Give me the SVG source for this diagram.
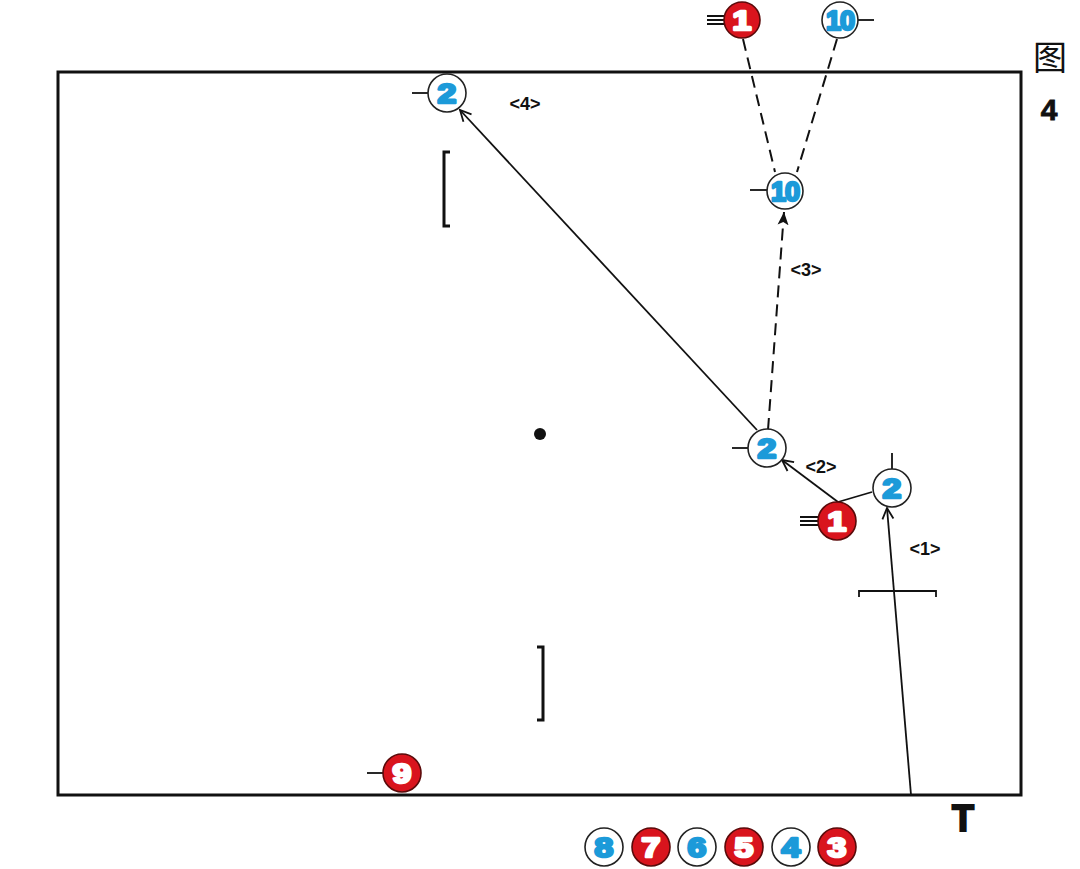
<svg xmlns="http://www.w3.org/2000/svg" width="1080" height="869" viewBox="0 0 1080 869">
<style>
.w{fill:#fff;stroke:#222;stroke-width:1.6}
.r{fill:#d9141d;stroke:#5a0a0a;stroke-width:1.6}
.nb{fill:#1c9ad9;stroke:#1c9ad9;stroke-width:2.6;stroke-linejoin:round;font-family:"Liberation Sans",Arial,sans-serif;font-weight:bold;font-size:27px;text-anchor:middle}
.nw{fill:#fff;stroke:#fff;stroke-width:2.6;stroke-linejoin:round;font-family:"Liberation Sans",Arial,sans-serif;font-weight:bold;font-size:27px;text-anchor:middle}
.tk{stroke:#111;stroke-width:1.8;fill:none}
.ln{stroke:#111;stroke-width:1.8;fill:none}
.ds{stroke:#111;stroke-width:2;fill:none;stroke-dasharray:12 7}
.lb{font-family:"Liberation Sans",Arial,sans-serif;font-weight:bold;font-size:18px;fill:#111;text-anchor:middle}
.br{stroke:#111;stroke-width:3;fill:none}
</style>
<defs>
<marker id="open" markerUnits="userSpaceOnUse" markerWidth="14" markerHeight="14" refX="12" refY="7" orient="auto">
<path d="M1,1.5 L12,7 L1,12.5" fill="none" stroke="#111" stroke-width="1.8"/>
</marker>
<marker id="fill" markerUnits="userSpaceOnUse" markerWidth="14" markerHeight="14" refX="13" refY="7" orient="auto">
<path d="M0,1.5 L13,7 L0,12.5 L3,7 Z" fill="#111"/>
</marker>
</defs>
<rect width="1080" height="869" fill="#fff"/>
<rect id="court" x="58" y="72" width="963" height="723" fill="none" stroke="#111" stroke-width="3"/>
<g id="marks">
<circle cx="540" cy="434" r="6" fill="#111"/>
<path class="br" d="M450,152 H444 V226 H450"/>
<path class="br" d="M537,647 H543 V720 H537"/>
<path class="tk" d="M859,597 V591 H936 V597"/>
</g>
<g id="connectors">
<line class="ds" x1="743" y1="39" x2="775" y2="172"/>
<line class="ds" x1="837" y1="39" x2="797" y2="172"/>
<line class="ds" x1="768" y1="430" x2="784" y2="212" marker-end="url(#fill)"/>
<line class="ln" x1="757" y1="430" x2="460" y2="110" marker-end="url(#open)"/>
<line class="ln" x1="838" y1="502" x2="782" y2="460" marker-end="url(#open)"/>
<line class="ln" x1="838" y1="502" x2="872" y2="492"/>
<line class="ln" x1="911" y1="795" x2="887" y2="508" marker-end="url(#open)"/>
</g>
<g id="labels">
<text class="lb" x="525" y="110">&lt;4&gt;</text>
<text class="lb" x="806" y="276">&lt;3&gt;</text>
<text class="lb" x="821" y="473">&lt;2&gt;</text>
<text class="lb" x="925" y="555">&lt;1&gt;</text>
</g>
<g id="p1top">
<path class="tk" d="M707,16 H724 M707,20 H724 M707,24 H724"/>
<circle class="r" cx="742" cy="20" r="18"/>
<text class="nw" transform="translate(742,20) scale(1.25,1)" y="10">1</text>
</g>
<g id="p10top">
<line class="tk" x1="858" y1="20" x2="874" y2="20"/>
<circle class="w" cx="840" cy="20" r="18"/>
<text class="nb" transform="translate(840,20)" y="10" font-size="25" letter-spacing="-1">10</text>
</g>
<g id="p10mid">
<line class="tk" x1="750" y1="190" x2="767" y2="190"/>
<circle class="w" cx="785" cy="191" r="18"/>
<text class="nb" transform="translate(785,191)" y="10" font-size="25" letter-spacing="-1">10</text>
</g>
<g id="p2top">
<line class="tk" x1="412" y1="93" x2="428" y2="93"/>
<circle class="w" cx="447" cy="93" r="19"/>
<text class="nb" transform="translate(447,93) scale(1.25,1)" y="10">2</text>
</g>
<g id="p2mid">
<line class="tk" x1="732" y1="448" x2="748" y2="448"/>
<circle class="w" cx="767" cy="448" r="19"/>
<text class="nb" transform="translate(767,448) scale(1.25,1)" y="10">2</text>
</g>
<g id="p2right">
<line class="tk" x1="892" y1="453" x2="892" y2="469"/>
<circle class="w" cx="892" cy="488" r="19"/>
<text class="nb" transform="translate(892,488) scale(1.25,1)" y="10">2</text>
</g>
<g id="p1mid">
<path class="tk" d="M800,517 H818 M800,521 H818 M800,525 H818"/>
<circle class="r" cx="837" cy="521" r="19"/>
<text class="nw" transform="translate(837,521) scale(1.25,1)" y="10">1</text>
</g>
<g id="p9">
<line class="tk" x1="367" y1="773" x2="383" y2="773"/>
<circle class="r" cx="402" cy="773" r="19"/>
<text class="nw" transform="translate(402,773) scale(1.25,1)" y="10">9</text>
</g>
<g id="bench">
<circle class="w" cx="604" cy="847" r="19"/><text class="nb" transform="translate(604,847) scale(1.25,1)" y="10">8</text>
<circle class="r" cx="651" cy="847" r="19"/><text class="nw" transform="translate(651,847) scale(1.25,1)" y="10">7</text>
<circle class="w" cx="697" cy="847" r="19"/><text class="nb" transform="translate(697,847) scale(1.25,1)" y="10">6</text>
<circle class="r" cx="744" cy="847" r="19"/><text class="nw" transform="translate(744,847) scale(1.25,1)" y="10">5</text>
<circle class="w" cx="791" cy="847" r="19"/><text class="nb" transform="translate(791,847) scale(1.25,1)" y="10">4</text>
<circle class="r" cx="837" cy="847" r="19"/><text class="nw" transform="translate(837,847) scale(1.25,1)" y="10">3</text>
</g>
<g id="title">
<text x="1050" y="70" font-family="'Noto Sans CJK SC',sans-serif" font-size="34" text-anchor="middle" fill="#111">图</text>
<text x="1049" y="120" font-family="'Liberation Sans',Arial,sans-serif" font-weight="bold" font-size="30" text-anchor="middle" fill="#111" stroke="#111" stroke-width="0.8">4</text>
<text x="963" y="831" font-family="'Liberation Sans',Arial,sans-serif" font-weight="bold" font-size="36" text-anchor="middle" fill="#111" stroke="#111" stroke-width="2">T</text>
</g>
</svg>
